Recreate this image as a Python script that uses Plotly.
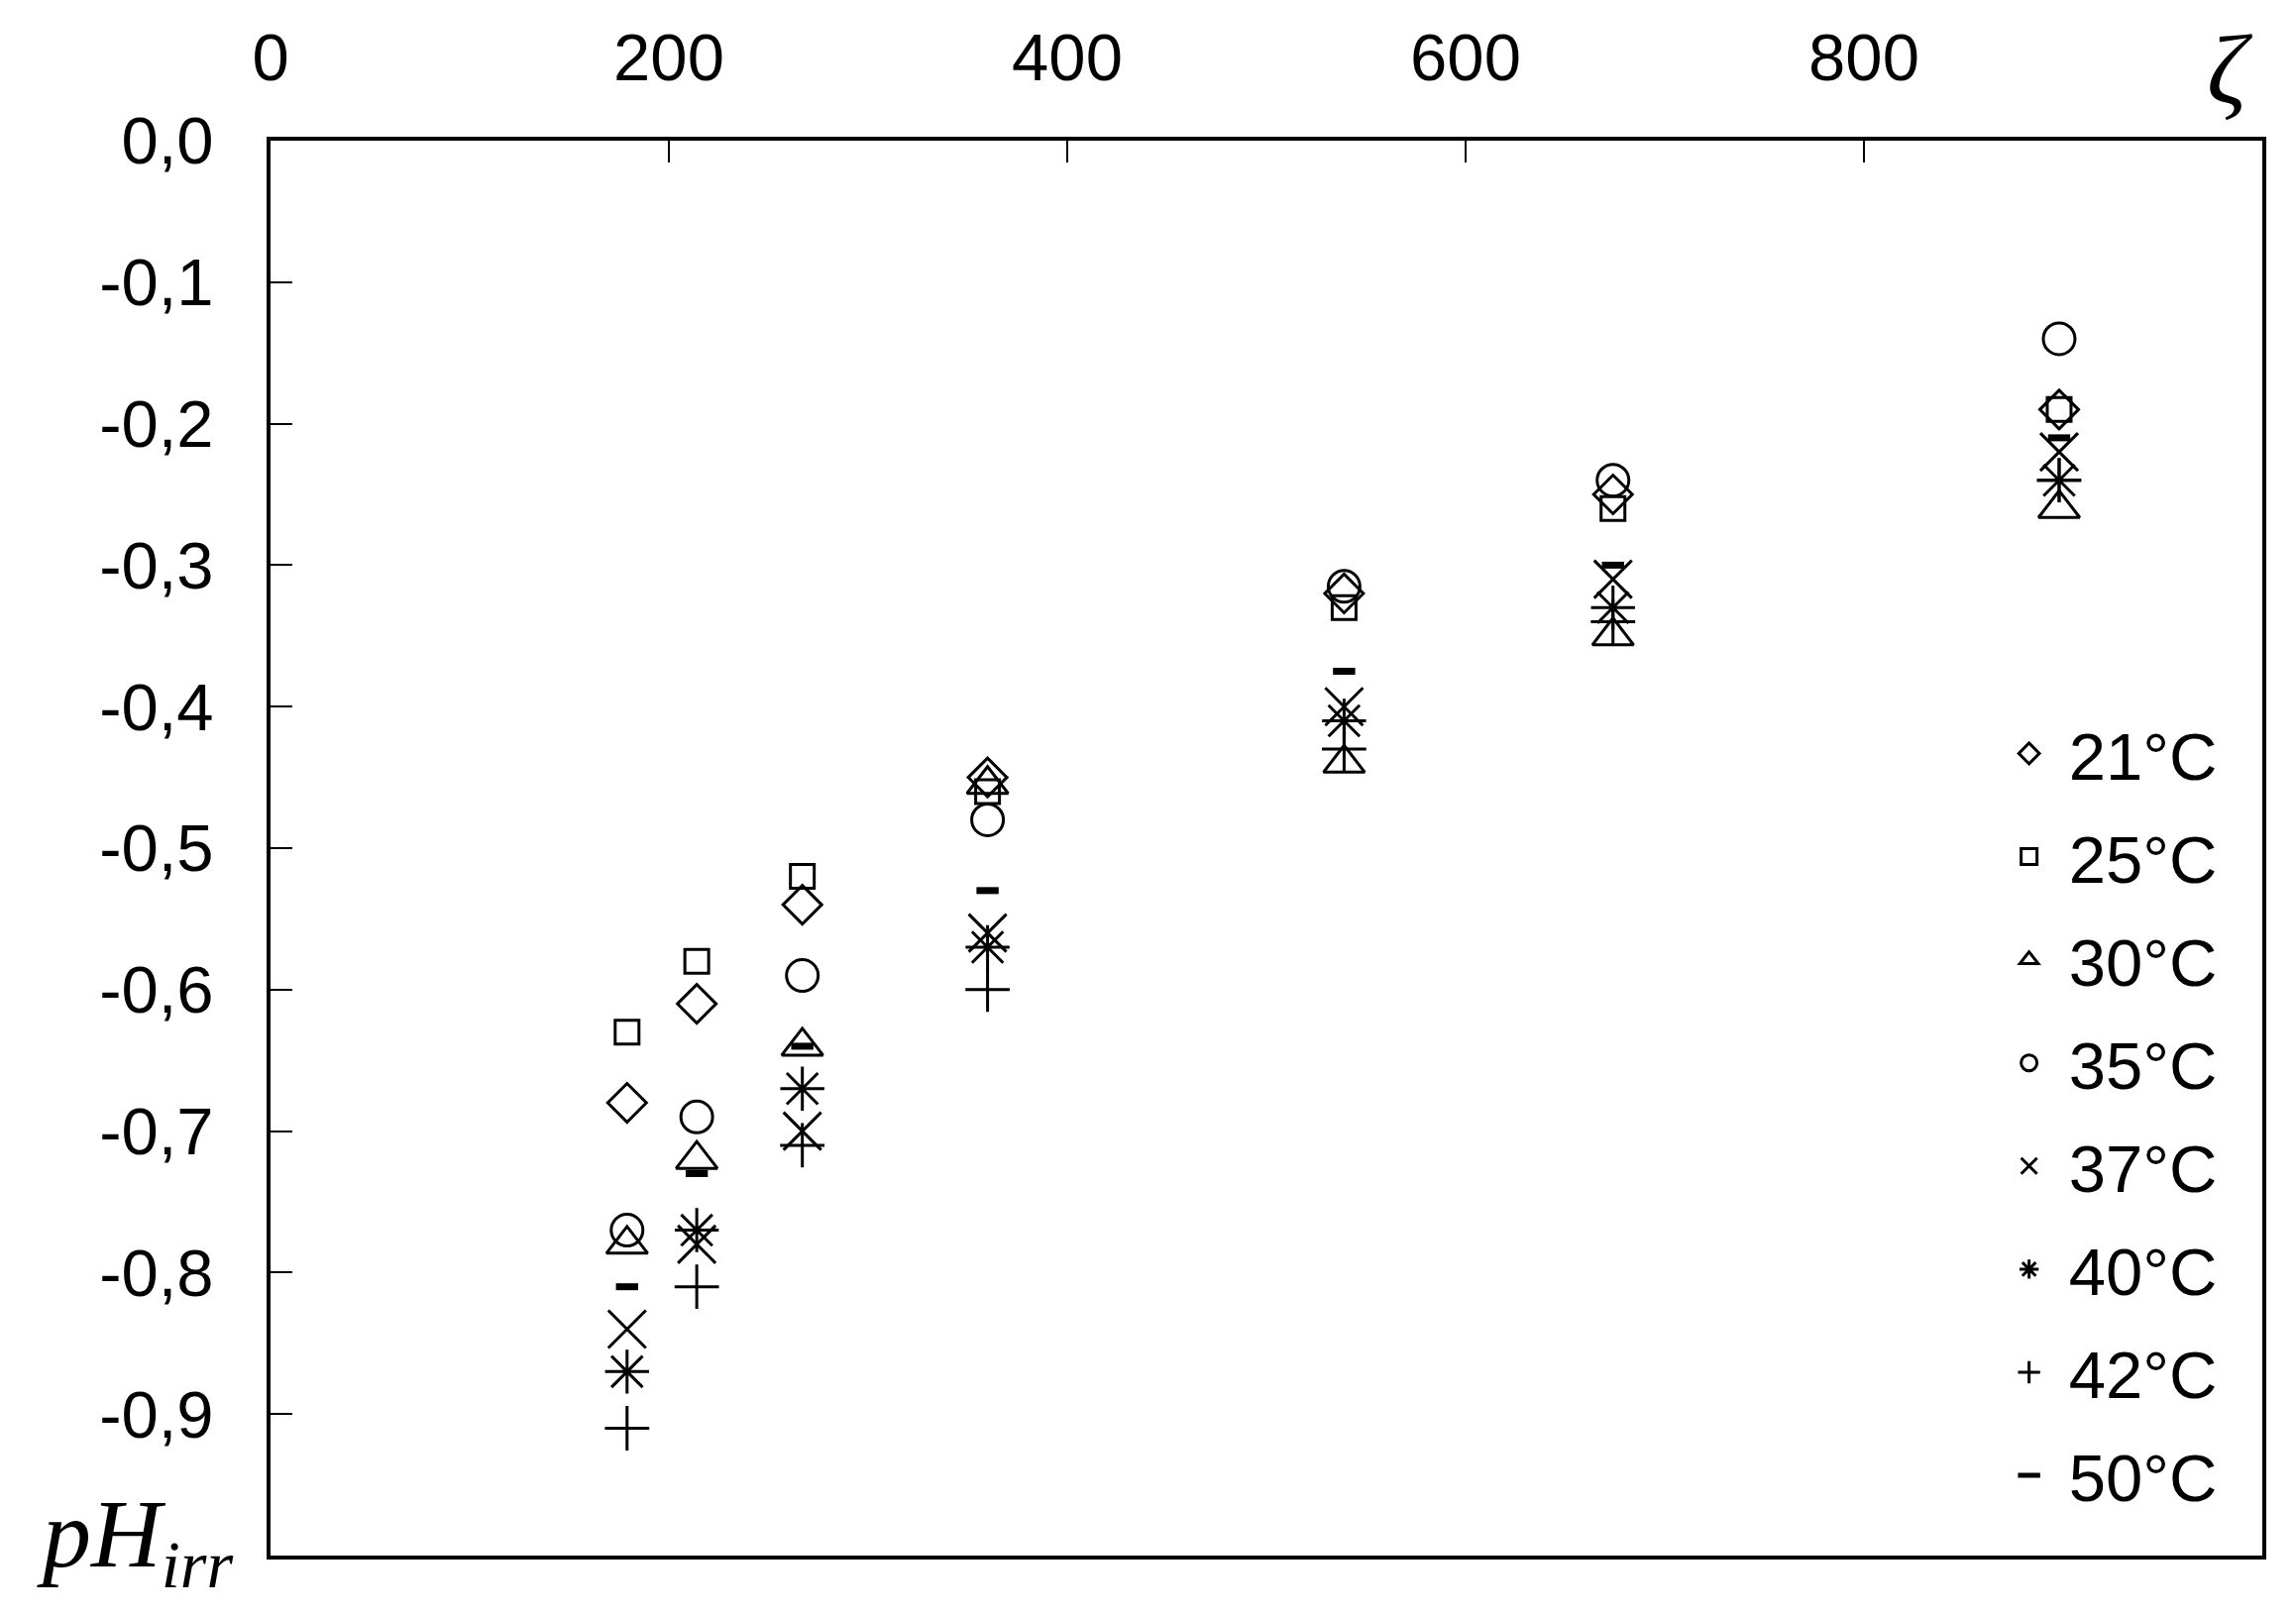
import plotly.graph_objects as go

# zeta values of the seven measurement groups
zeta = [179, 214, 267, 360, 539, 674, 898]

# pH_irr, one list per temperature
ph_21 = [-0.68, -0.61, -0.54, -0.45, -0.32, -0.25, -0.19]
ph_25 = [-0.63, -0.58, -0.52, -0.46, -0.33, -0.26, -0.19]
ph_30 = [-0.78, -0.72, -0.64, -0.455, -0.44, -0.35, -0.26]
ph_35 = [-0.77, -0.69, -0.59, -0.48, -0.315, -0.24, -0.14]
ph_37 = [-0.84, -0.78, -0.70, -0.56, -0.40, -0.31, -0.22]
ph_40 = [-0.87, -0.77, -0.67, -0.57, -0.41, -0.33, -0.24]
ph_42 = [-0.91, -0.81, -0.71, -0.60, -0.43, -0.34, -0.24]
ph_50 = [-0.81, -0.73, -0.64, -0.53, -0.375, -0.30, -0.21]

names = ['21°C', '25°C', '30°C', '35°C', '37°C', '40°C', '42°C', '50°C']
series = [ph_21, ph_25, ph_30, ph_35, ph_37, ph_40, ph_42, ph_50]

x_ticks = [0, 200, 400, 600, 800]
y_ticks = [0.0, -0.1, -0.2, -0.3, -0.4, -0.5, -0.6, -0.7, -0.8, -0.9]
y_labels = ['0,0', '-0,1', '-0,2', '-0,3', '-0,4', '-0,5', '-0,6', '-0,7', '-0,8', '-0,9']

# marker look per series
symbols = ['diamond-open', 'square-open', 'triangle-up-open', 'circle-open',
           'x-thin-open', 'asterisk-open', 'cross-thin-open', 'line-ew-open']
sizes = [30, 24, 36, 32, 38, 37, 32, 16]
widths = [3, 3, 3, 3, 3, 3, 3, 7]

fig = go.Figure()
for i in range(len(names)):
    fig.add_trace(go.Scatter(
        x=zeta, y=series[i], mode='markers', name=names[i],
        legendgroup=names[i],
        marker=dict(symbol=symbols[i], size=sizes[i], color='black',
                    line=dict(color='black', width=widths[i]))
    ))

font = 'Liberation Sans, Arial, sans-serif'
serif = 'Liberation Serif, Times New Roman, serif'
fig.update_layout(
    width=2317, height=1631,
    margin=dict(l=265, r=42, t=126, b=69),
    paper_bgcolor='white', plot_bgcolor='white',
    font=dict(family=font, size=67, color='black'),
    showlegend=True,
    legend=dict(x=0.863, xanchor='left', y=0.602, yanchor='top',
                bgcolor='rgba(0,0,0,0)', tracegroupgap=14, itemwidth=70,
                font=dict(size=67)),
    xaxis=dict(range=[0, 1000], side='top', tickvals=x_ticks,
               showgrid=False, zeroline=False, showline=True, mirror=True,
               linecolor='black', linewidth=4, ticks='inside', ticklen=22,
               tickwidth=2, tickcolor='black', ticklabelstandoff=30),
    yaxis=dict(range=[-1, 0], tickvals=y_ticks, ticktext=y_labels,
               showgrid=False, zeroline=False, showline=True, mirror=True,
               linecolor='black', linewidth=4, ticks='inside', ticklen=22,
               tickwidth=2, tickcolor='black', ticklabelstandoff=40),
    annotations=[
        dict(text='<i>ζ</i>', x=0.984, y=1.05, xref='paper', yref='paper',
             showarrow=False, xanchor='center', yanchor='middle',
             font=dict(family=serif, size=100)),
        dict(text='<i>pH</i><sub><i>irr</i></sub>', x=-0.068, y=0.01,
             xref='paper', yref='paper', showarrow=False,
             xanchor='center', yanchor='middle',
             font=dict(family=serif, size=98)),
    ],
)

fig.write_html("out.html")
